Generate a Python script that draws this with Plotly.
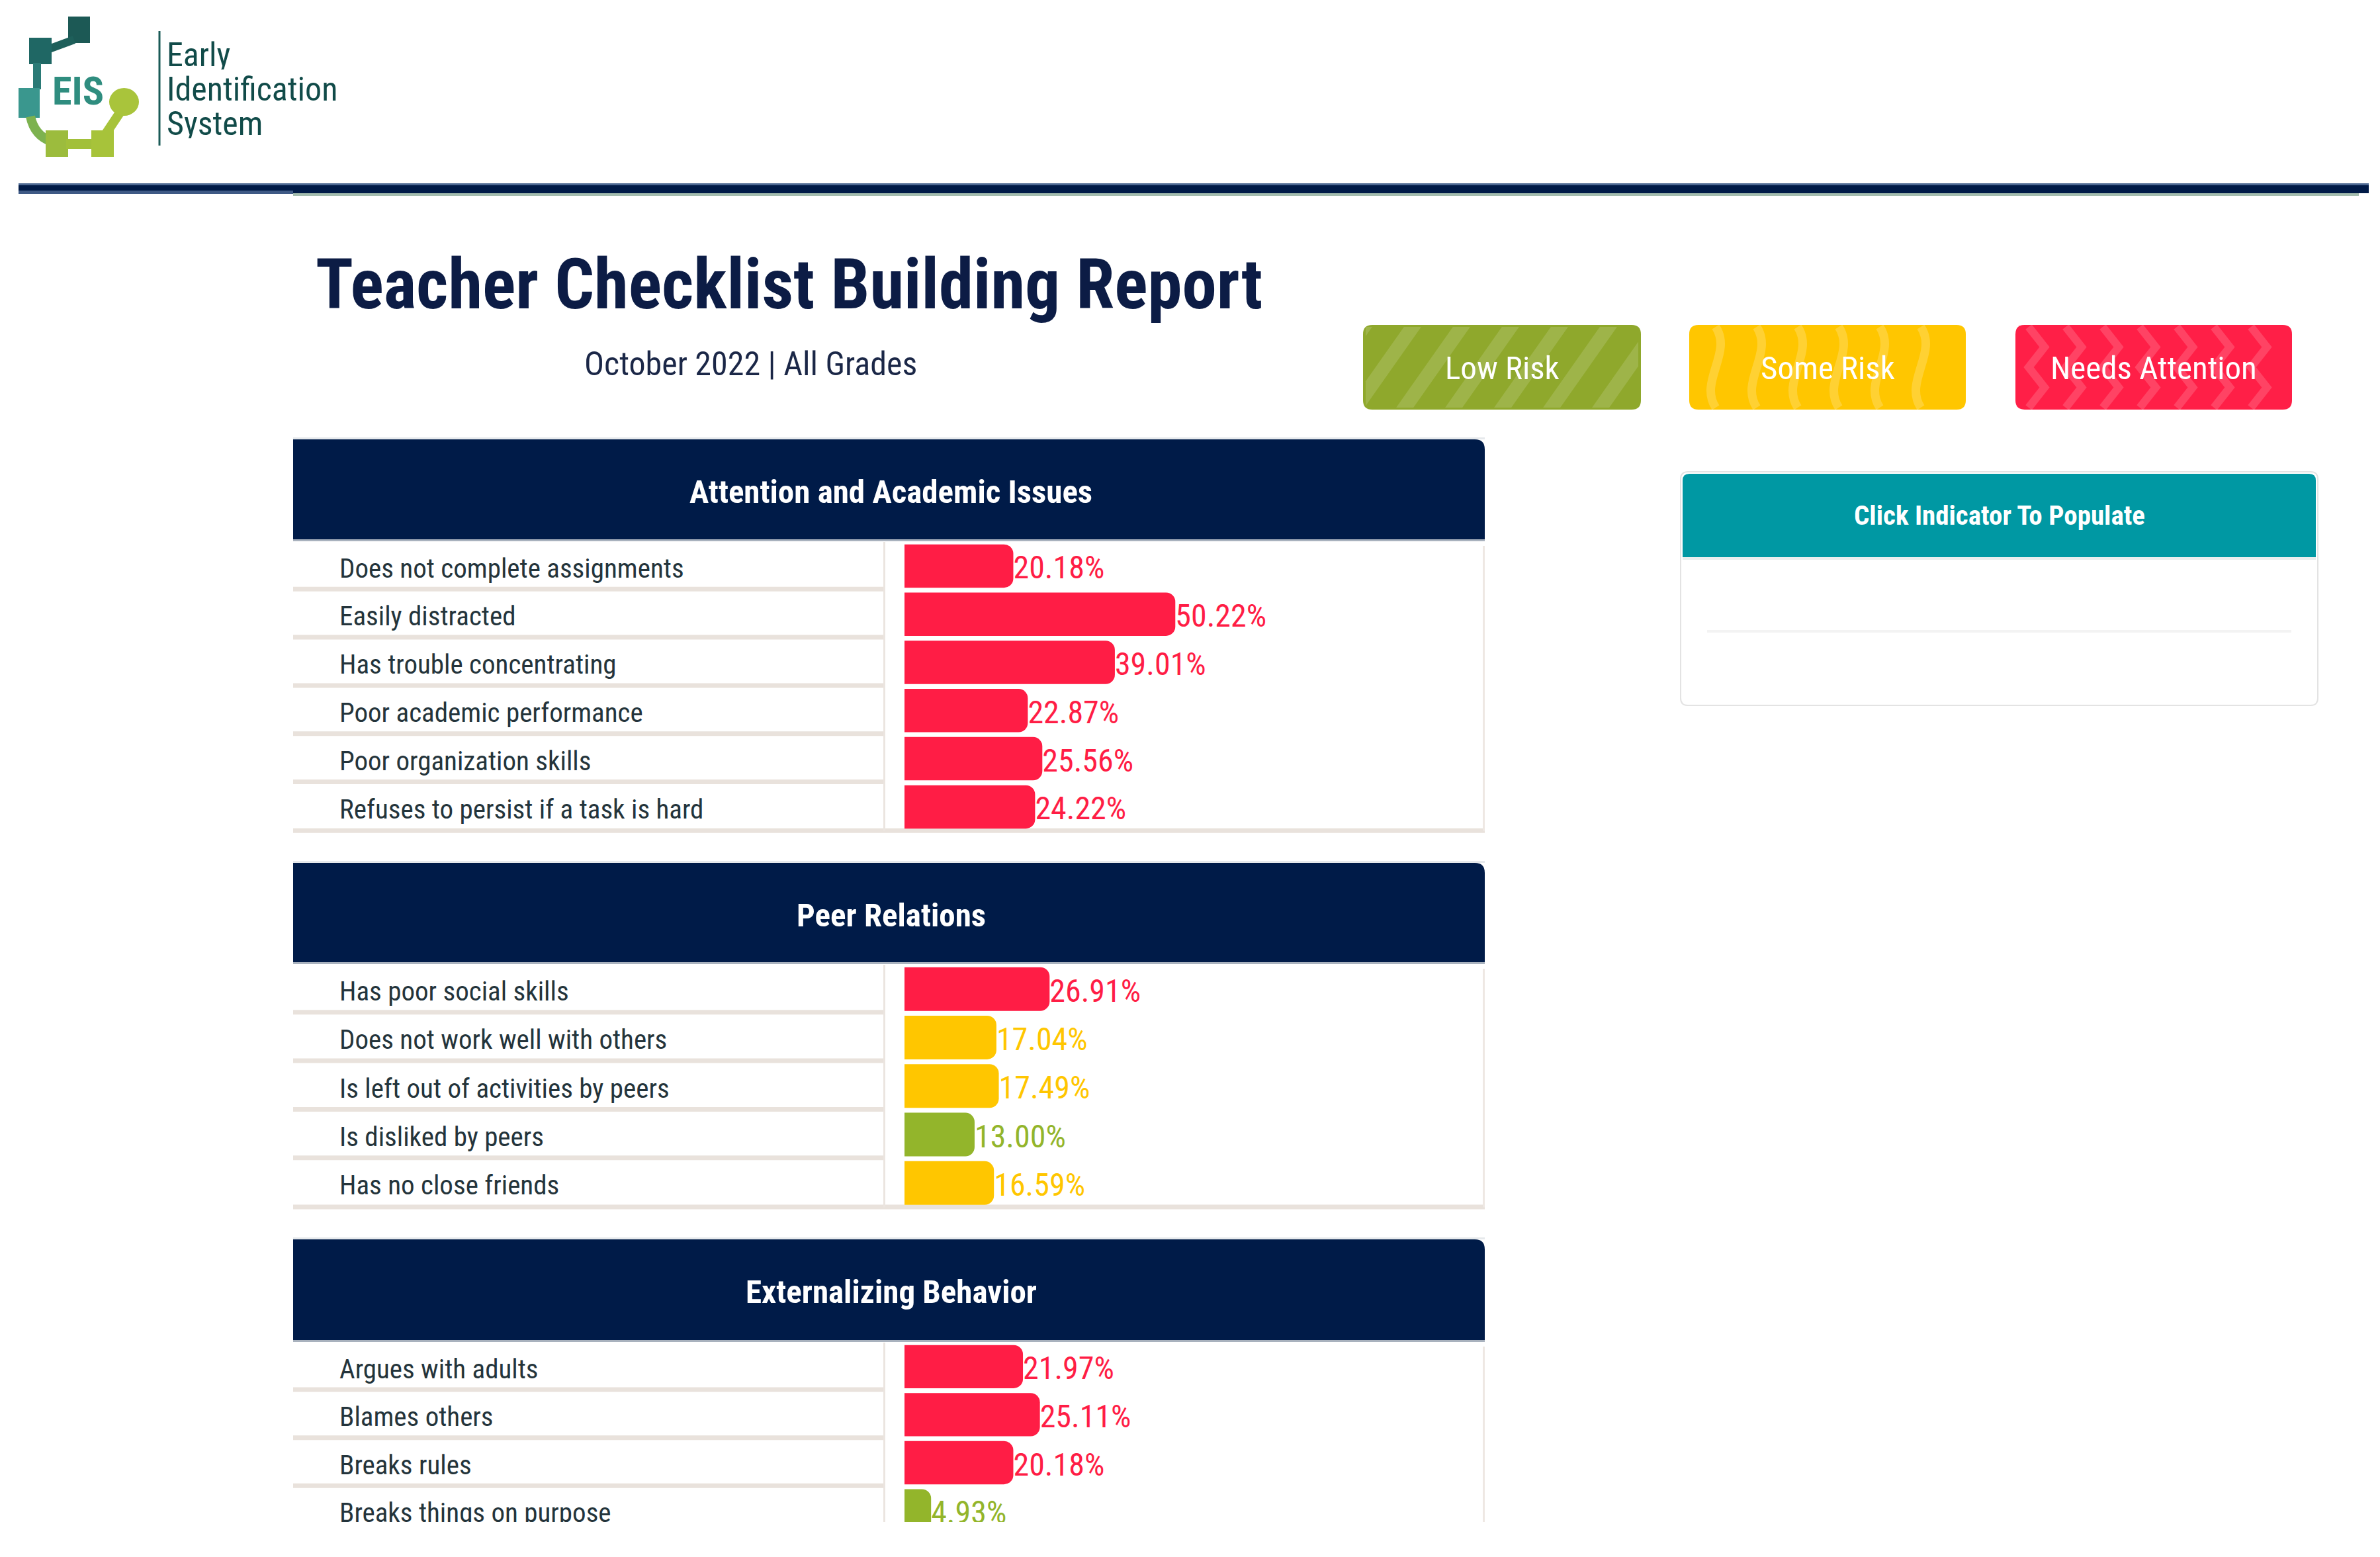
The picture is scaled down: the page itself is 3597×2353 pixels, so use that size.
import plotly.graph_objects as go

W, H = 3597, 2353
OFF = 8  # default page body margin of the written html

# ---------------- data ----------------
title_text = "Teacher Checklist Building Report"
subtitle_text = "October 2022 | All Grades"
logo_lines = ["Early", "Identification", "System"]
legend_labels = ["Low Risk", "Some Risk", "Needs Attention"]
panel_title = "Click Indicator To Populate"

section_titles = ["Attention and Academic Issues", "Peer Relations", "Externalizing Behavior"]

attn_items = ["Does not complete assignments", "Easily distracted", "Has trouble concentrating",
              "Poor academic performance", "Poor organization skills", "Refuses to persist if a task is hard"]
attn_vals = [20.18, 50.22, 39.01, 22.87, 25.56, 24.22]
attn_risk = ["needs", "needs", "needs", "needs", "needs", "needs"]

peer_items = ["Has poor social skills", "Does not work well with others", "Is left out of activities by peers",
              "Is disliked by peers", "Has no close friends"]
peer_vals = [26.91, 17.04, 17.49, 13.00, 16.59]
peer_risk = ["needs", "some", "some", "low", "some"]

ext_items = ["Argues with adults", "Blames others", "Breaks rules", "Breaks things on purpose"]
ext_vals = [21.97, 25.11, 20.18, 4.93]
ext_risk = ["needs", "needs", "needs", "low"]

# ---------------- style ----------------
FONT = "Liberation Sans Narrow, Arial Narrow, Roboto Condensed, DejaVu Sans Condensed, sans-serif"
NAVY = "#001b48"
RISK_COL = {"low": "#93b52b", "some": "#ffc600", "needs": "#ff1d45"}
BTN_COL = ["#8fa82c", "#ffc600", "#ff1f47"]
TEXT_DROP = 7  # px: row texts sit slightly below the bar centre line


def X(px):
    return (px - OFF) / W


def Y(py):
    return 1 - (py - OFF) / H


def P(x, y):
    return f"{X(x):.6f},{Y(y):.6f}"


def rrect_path(x0, y0, x1, y1, r=(0, 0, 0, 0)):
    tl, tr, br, bl = r
    return (f"M{P(x0 + tl, y0)} L{P(x1 - tr, y0)} Q{P(x1, y0)} {P(x1, y0 + tr)} "
            f"L{P(x1, y1 - br)} Q{P(x1, y1)} {P(x1 - br, y1)} L{P(x0 + bl, y1)} "
            f"Q{P(x0, y1)} {P(x0, y1 - bl)} L{P(x0, y0 + tl)} Q{P(x0, y0)} {P(x0 + tl, y0)} Z")


shapes = []
annotations = []


def rect(x0, y0, x1, y1, color, r=None, line=None):
    if r is None and line is None:
        shapes.append(dict(type="rect", xref="paper", yref="paper", x0=X(x0), x1=X(x1), y0=Y(y1), y1=Y(y0),
                           fillcolor=color, line=dict(width=0), layer="below"))
    else:
        rr = r if r is not None else (0, 0, 0, 0)
        shapes.append(dict(type="path", xref="paper", yref="paper", path=rrect_path(x0, y0, x1, y1, rr),
                           fillcolor=color, line=line if line else dict(width=0), layer="below"))


def text(x, y, s, size, color, bold=False, xanchor="left", family=FONT, height=None):
    a = dict(xref="paper", yref="paper", x=X(x), y=Y(y), text=(f"<b>{s}</b>" if bold else s),
             showarrow=False, xanchor=xanchor, yanchor="middle",
             font=dict(family=family, size=size, color=color))
    if height:
        a["height"] = height
        a["valign"] = "middle"
    annotations.append(a)


def clip_poly(poly, bx0, by0, bx1, by1):
    def clip(pts, inside, inter):
        out = []
        for i in range(len(pts)):
            a, b = pts[i - 1], pts[i]
            if inside(b):
                if not inside(a):
                    out.append(inter(a, b))
                out.append(b)
            elif inside(a):
                out.append(inter(a, b))
        return out

    def ix(xv):
        return lambda a, b: (xv, a[1] + (b[1] - a[1]) * (xv - a[0]) / (b[0] - a[0]))

    def iy(yv):
        return lambda a, b: (a[0] + (b[0] - a[0]) * (yv - a[1]) / (b[1] - a[1]), yv)

    pts = poly
    pts = clip(pts, lambda p: p[0] >= bx0, ix(bx0))
    if pts:
        pts = clip(pts, lambda p: p[0] <= bx1, ix(bx1))
    if pts:
        pts = clip(pts, lambda p: p[1] >= by0, iy(by0))
    if pts:
        pts = clip(pts, lambda p: p[1] <= by1, iy(by1))
    return pts


# ---------------- logo ----------------
rect(103, 25, 136, 65, "#1c5955")
shapes.append(dict(type="line", xref="paper", yref="paper", x0=X(112), y0=Y(60), x1=X(74), y1=Y(74),
                   line=dict(color="#1e5f5a", width=12), layer="below"))
rect(44, 57, 78, 97, "#1f6764")
rect(50, 95, 62, 135, "#2a7a76")
rect(28, 133, 60, 178, "#3a978e")
shapes.append(dict(type="path", xref="paper", yref="paper",
                   path=f"M{P(46, 176)} Q{P(52, 205)} {P(78, 214)}",
                   fillcolor="rgba(0,0,0,0)", line=dict(color="#7db24f", width=14), layer="below"))
rect(69, 197, 103, 237, "#9cbc3d")
rect(100, 210, 140, 225, "#a2c03a")
rect(138, 197, 172, 237, "#a7c33a")
shapes.append(dict(type="line", xref="paper", yref="paper", x0=X(160), y0=Y(202), x1=X(184), y1=Y(166),
                   line=dict(color="#a7c33a", width=14), layer="below"))
shapes.append(dict(type="circle", xref="paper", yref="paper", x0=X(165), x1=X(210), y0=Y(175), y1=Y(133),
                   fillcolor="#a9c43b", line=dict(width=0), layer="below"))
text(118, 138, "EIS", 60, "#2f8d7f", bold=True, xanchor="center")
shapes.append(dict(type="line", xref="paper", yref="paper", x0=X(241), x1=X(241), y0=Y(47), y1=Y(220),
                   line=dict(color="#1a5a57", width=3), layer="below"))
for i, s in enumerate(logo_lines):
    text(250, 83 + i * 52, s, 50, "#114b49", height=44)

# ---------------- header rule ----------------
rect(28, 277, 3580, 280, "#4d6892")
rect(28, 280, 3580, 292, "#001a47")
rect(28, 288, 443, 293, "#3e5985")
rect(443, 292, 3565, 296, "#a3bcae")

# ---------------- title ----------------
text(475, 430, title_text, 105, "#0c1c45", bold=True)
text(1134, 550, subtitle_text, 50, "#1b2747", xanchor="center")

# ---------------- legend buttons ----------------
btn_x = [(2060, 2480), (2553, 2971), (3046, 3464)]
BY0, BY1 = 491, 619
for k, ((bx0, bx1), lab) in enumerate(zip(btn_x, legend_labels)):
    rect(bx0, BY0, bx1, BY1, BTN_COL[k], r=(14, 14, 14, 14))
    if k == 0:
        for j in range(8):
            xb = bx0 - 100 + j * 74
            poly = [(xb, BY1), (xb + 26, BY1), (xb + 116, BY0), (xb + 90, BY0)]
            cp = clip_poly(poly, bx0 + 4, BY0 + 3, bx1 - 4, BY1 - 3)
            if len(cp) >= 3:
                path = "M" + " L".join(P(*p) for p in cp) + " Z"
                shapes.append(dict(type="path", xref="paper", yref="paper", path=path,
                                   fillcolor="rgba(255,255,255,0.14)", line=dict(width=0), layer="below"))
    elif k == 1:
        xc = bx0 + 40
        while xc < bx1 - 30:
            path = (f"M{P(xc, BY0 + 3)} C{P(xc + 26, BY0 + 42)} {P(xc - 26, BY0 + 86)} {P(xc, BY1 - 3)}")
            shapes.append(dict(type="path", xref="paper", yref="paper", path=path,
                               fillcolor="rgba(0,0,0,0)", line=dict(color="rgba(255,255,255,0.2)", width=13),
                               layer="below"))
            xc += 62
    else:
        xc = bx0 + 32
        while xc < bx1 - 24:
            pts = [(xc + (12 if j % 2 else -12), BY0 + 3 + j * 30.5) for j in range(5)]
            path = "M" + " L".join(P(*p) for p in pts)
            shapes.append(dict(type="path", xref="paper", yref="paper", path=path,
                               fillcolor="rgba(0,0,0,0)", line=dict(color="rgba(255,255,255,0.16)", width=12),
                               layer="below"))
            xc += 56
    text((bx0 + bx1) / 2, (BY0 + BY1) / 2 + 2, lab, 49, "#ffffff", xanchor="center")

# ---------------- click indicator panel ----------------
rect(2540, 713, 3503, 1066, "#ffffff", r=(11, 11, 11, 11), line=dict(color="#e3e3e3", width=2))
rect(2543, 716, 3500, 842, "#0098a3", r=(10, 10, 0, 0))
rect(2543, 842, 3500, 846, "#e9eeee")
rect(2580, 952, 3463, 956, "#f3f3f3")
text(3022, 779, panel_title, 41, "#ffffff", bold=True, xanchor="center")

# ---------------- sections ----------------
L, R, DIV = 443, 2244, 1337
BAR0, PXU = 1367, 8.15
LABX = 513

sections = [
    dict(items=attn_items, vals=attn_vals, risk=attn_risk, htop=664, hbot=815, y0=819, p=72.8, clip=None),
    dict(items=peer_items, vals=peer_vals, risk=peer_risk, htop=1304, hbot=1454, y0=1458, p=73.3, clip=None),
    dict(items=ext_items, vals=ext_vals, risk=ext_risk, htop=1873, hbot=2025, y0=2029, p=72.6, clip=2300),
]

fig = go.Figure()
layout_axes = {}

for k, sec in enumerate(sections):
    s = "" if k == 0 else str(k + 1)
    st = str(k + 4)  # overlay axis for the row texts
    n = len(sec["items"])
    y0, p = sec["y0"], sec["p"]
    bottom = sec["clip"] if sec["clip"] else y0 + n * p

    # header
    rect(L, sec["htop"] - 3, R, sec["htop"], "#e6e9ec")
    rect(L, sec["htop"], R, sec["hbot"], NAVY, r=(0, 15, 0, 0))
    rect(L, sec["hbot"], R, sec["hbot"] + 3, "#a9b2be")
    text((L + R) / 2 + 3, (sec["htop"] + sec["hbot"]) / 2 + 4, section_titles[k], 49, "#ffffff", bold=True,
         xanchor="center")

    # row separators
    for i in range(n):
        yb = y0 + (i + 1) * p
        if yb > bottom:
            continue
        if i < n - 1:
            rect(L, yb - 5, DIV, yb + 2, "#e9e2dc")
        else:
            rect(L, yb - 4, R, yb + 3, "#e9e2dc")
    rect(DIV - 2, y0, DIV + 1, bottom, "#ebe5e0")
    rect(R - 3, sec["hbot"] + 10, R, bottom, "#eee8e3")

    cols = [RISK_COL[r] for r in sec["risk"]]
    fig.add_trace(go.Bar(
        x=sec["vals"], y=sec["items"], orientation="h", xaxis="x" + s, yaxis="y" + s,
        marker=dict(color=cols, cornerradius=14, line=dict(width=0)), width=0.9,
        cliponaxis=True, hoverinfo="skip", showlegend=False))
    # value labels at the bar ends
    fig.add_trace(go.Scatter(
        x=sec["vals"], y=sec["items"], mode="text", text=[f"{v:.2f}%" for v in sec["vals"]],
        textposition="middle right", textfont=dict(family=FONT, size=48, color=cols),
        xaxis="x" + s, yaxis="y" + st, cliponaxis=True, hoverinfo="skip", showlegend=False))
    # row labels
    fig.add_trace(go.Scatter(
        x=[(LABX - BAR0) / PXU] * n, y=sec["items"], mode="text", text=sec["items"],
        textposition="middle right", textfont=dict(family=FONT, size=41, color="#24343b"),
        xaxis="x" + s, yaxis="y" + st, cliponaxis=True, hoverinfo="skip", showlegend=False))

    rng = [(bottom - y0) / p - 0.5, -0.5]
    d = TEXT_DROP / p
    layout_axes["xaxis" + s] = dict(domain=[X(L), X(R)], range=[(L - BAR0) / PXU, (R - BAR0) / PXU],
                                    visible=False, fixedrange=True, anchor="y" + s)
    layout_axes["yaxis" + s] = dict(domain=[Y(bottom), Y(y0)], range=rng,
                                    type="category", visible=False, fixedrange=True, anchor="x" + s)
    layout_axes["yaxis" + st] = dict(domain=[Y(bottom), Y(y0)], range=[rng[0] - d, rng[1] - d],
                                     type="category", visible=False, fixedrange=True, anchor="x" + s,
                                     overlaying="y" + s, categoryorder="array", categoryarray=sec["items"])

fig.update_layout(
    width=W, height=H, margin=dict(l=0, r=0, t=0, b=0),
    paper_bgcolor="#ffffff", plot_bgcolor="rgba(0,0,0,0)",
    font=dict(family=FONT), shapes=shapes, annotations=annotations, bargap=0.1,
    **layout_axes)

fig.write_html("out.html")
